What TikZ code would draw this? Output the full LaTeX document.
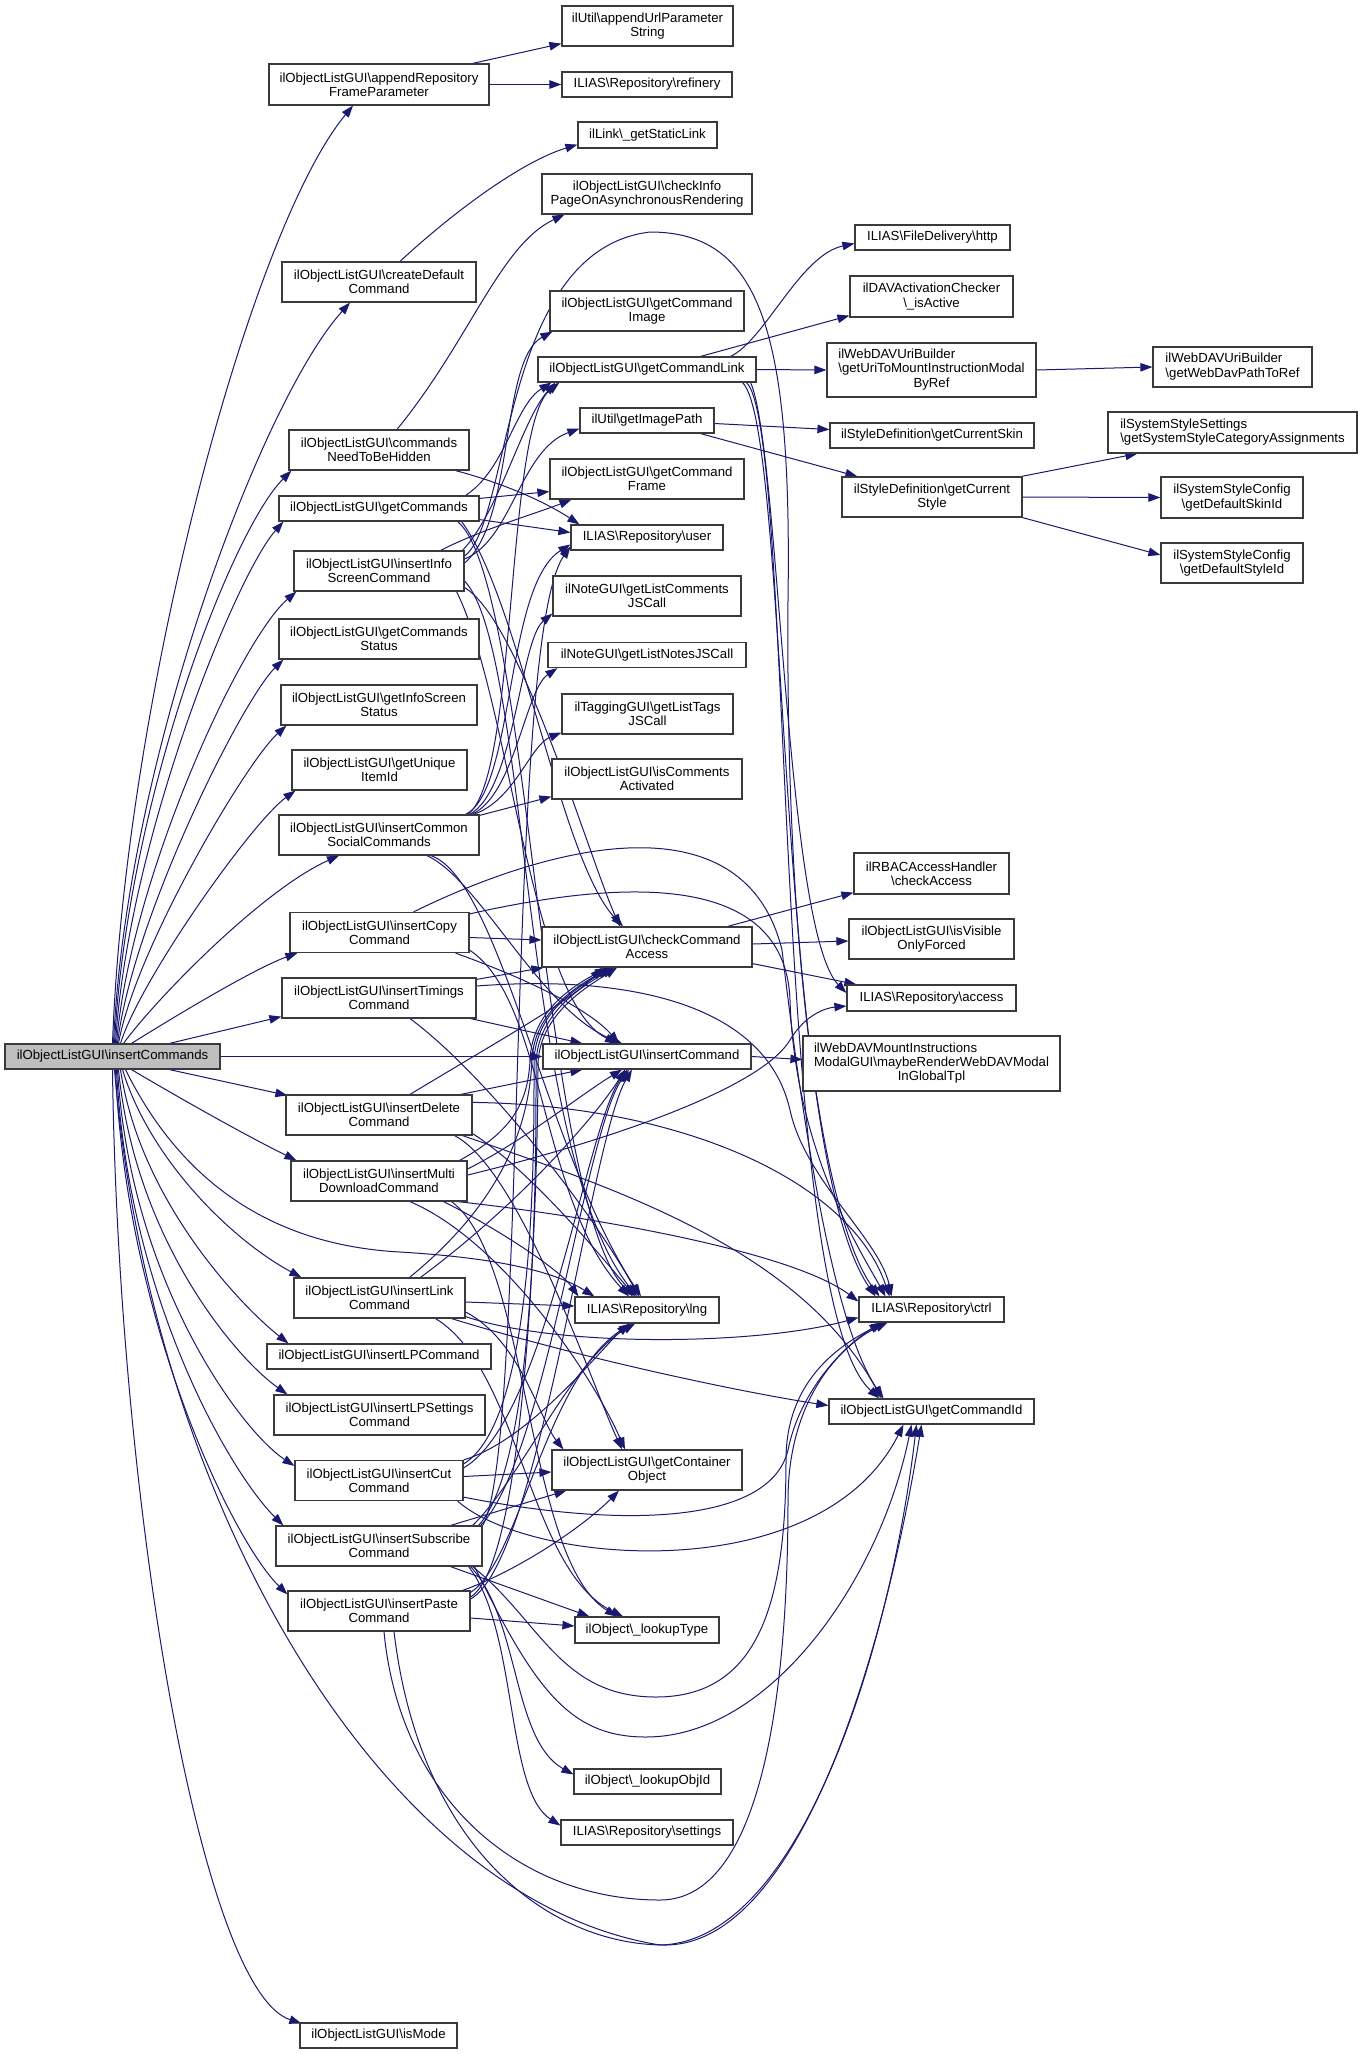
\documentclass[tikz,border=0pt]{standalone}
\usepackage{fontspec}
\setmainfont{Liberation Sans}
\usetikzlibrary{arrows.meta,calc}
\pgfdeclarelayer{bg}
\pgfdeclarelayer{paper}
\pgfsetlayers{paper,bg,main}
\definecolor{edgec}{HTML}{191970}
\definecolor{boxc}{HTML}{3A3A3A}
\definecolor{grayfill}{HTML}{BFBFBF}
\newcommand{\bksl}{\textbackslash}
\newcommand{\nf}{\fontsize{13.2}{14.3}\selectfont}
\tikzset{
  nb/.style={draw=boxc, line width=1.2pt, fill=white, inner sep=0pt, font=\nf},
  box/.style={nb, align=center},
  e/.style={draw=edgec, line width=1pt, -{Triangle[length=12pt,width=8.5pt]}},
}
\newcommand{\mynode}[6]{\node[box,minimum width=#4pt,minimum height=#5pt] (#1) at (#2,#3) {#6};}
\begin{document}
\begin{tikzpicture}[x=1pt,y=-1pt]
\useasboundingbox (0,0) rectangle (1361,2054);
\begin{pgfonlayer}{paper}
\fill[white] (0,0) rectangle (1361,2054);
\end{pgfonlayer}

% ---------- nodes ----------
\node[box,fill=grayfill,minimum width=215pt,minimum height=25pt] (cmds) at (112.5,1056.5) {ilObjectListGUI\bksl insertCommands};
\mynode{arfp}{379}{84.5}{220}{41}{ilObjectListGUI\bksl appendRepository\\FrameParameter}
\mynode{aups}{647.5}{26}{171}{40}{ilUtil\bksl appendUrlParameter\\String}
\mynode{ref}{647}{84.5}{170}{25}{ILIAS\bksl Repository\bksl refinery}
\mynode{gsl}{647.5}{135}{139}{26}{ilLink\bksl\_getStaticLink}
\mynode{cip}{647}{194}{210}{40}{ilObjectListGUI\bksl checkInfo\\PageOnAsynchronousRendering}
\mynode{cdc}{379}{282}{194}{40}{ilObjectListGUI\bksl createDefault\\Command}
\mynode{gci}{647}{311}{194}{40}{ilObjectListGUI\bksl getCommand\\Image}
\mynode{gcl}{647}{369.5}{218}{25}{ilObjectListGUI\bksl getCommandLink}
\mynode{gip}{647}{420.5}{134}{25}{ilUtil\bksl getImagePath}
\mynode{cnh}{379}{450}{180}{40}{ilObjectListGUI\bksl commands\\NeedToBeHidden}
\mynode{gcf}{647}{479}{194}{40}{ilObjectListGUI\bksl getCommand\\Frame}
\mynode{gc}{379}{508.5}{200}{25}{ilObjectListGUI\bksl getCommands}
\mynode{usr}{647}{537.5}{152}{25}{ILIAS\bksl Repository\bksl user}
\mynode{iis}{379}{571}{170}{40}{ilObjectListGUI\bksl insertInfo\\ScreenCommand}
\mynode{glc}{647}{596}{188}{40}{ilNoteGUI\bksl getListComments\\JSCall}
\mynode{gcs}{379}{639}{200}{40}{ilObjectListGUI\bksl getCommands\\Status}
\mynode{gln}{647}{655}{198}{25}{ilNoteGUI\bksl getListNotesJSCall}
\mynode{giss}{379}{705}{196}{40}{ilObjectListGUI\bksl getInfoScreen\\Status}
\mynode{glt}{647.5}{714}{171}{40}{ilTaggingGUI\bksl getListTags\\JSCall}
\mynode{guid}{379.5}{770}{175}{40}{ilObjectListGUI\bksl getUnique\\ItemId}
\mynode{ica}{647}{779}{190}{40}{ilObjectListGUI\bksl isComments\\Activated}
\mynode{icsc}{379}{835}{200}{40}{ilObjectListGUI\bksl insertCommon\\SocialCommands}
\mynode{icc}{379.5}{932.5}{179}{40}{ilObjectListGUI\bksl insertCopy\\Command}
\mynode{cca}{647}{947}{210}{40}{ilObjectListGUI\bksl checkCommand\\Access}
\mynode{itc}{379}{998}{194}{40}{ilObjectListGUI\bksl insertTimings\\Command}
\mynode{ic}{647}{1056.5}{208}{25}{ilObjectListGUI\bksl insertCommand}
\mynode{idc}{379}{1115}{186}{40}{ilObjectListGUI\bksl insertDelete\\Command}
\mynode{imd}{379}{1181}{176}{40}{ilObjectListGUI\bksl insertMulti\\DownloadCommand}
\mynode{ilc}{379.5}{1298}{171}{40}{ilObjectListGUI\bksl insertLink\\Command}
\mynode{lng}{647}{1310}{144}{26}{ILIAS\bksl Repository\bksl lng}
\mynode{ilp}{379}{1356.5}{224}{25}{ilObjectListGUI\bksl insertLPCommand}
\mynode{ilps}{379.5}{1415}{211}{40}{ilObjectListGUI\bksl insertLPSettings\\Command}
\mynode{icut}{379}{1480.5}{168}{40}{ilObjectListGUI\bksl insertCut\\Command}
\mynode{gco}{647}{1470}{190}{40}{ilObjectListGUI\bksl getContainer\\Object}
\mynode{isub}{379}{1546}{206}{40}{ilObjectListGUI\bksl insertSubscribe\\Command}
\mynode{ipc}{379}{1611}{182}{40}{ilObjectListGUI\bksl insertPaste\\Command}
\mynode{lt}{647}{1630}{144}{26}{ilObject\bksl\_lookupType}
\mynode{loi}{647.5}{1781.5}{147}{25}{ilObject\bksl\_lookupObjId}
\mynode{set}{647}{1832.5}{172}{25}{ILIAS\bksl Repository\bksl settings}
\mynode{ism}{378.5}{2035.5}{157}{25}{ilObjectListGUI\bksl isMode}
\mynode{http}{932.5}{237.5}{155}{25}{ILIAS\bksl FileDelivery\bksl http}
\mynode{isa}{931.5}{296.5}{163}{41}{ilDAVActivationChecker\\\bksl\_isActive}
\node[nb,minimum width=209pt,minimum height=54pt] (gum) at (931.5,370) {\begin{tabular}{@{}l@{}}ilWebDAVUriBuilder\\\bksl getUriToMountInstructionModal\\\multicolumn{1}{@{}c@{}}{ByRef}\end{tabular}};
\node[nb,minimum width=159pt,minimum height=40pt] (gwd) at (1232.5,367) {\begin{tabular}{@{}l@{}}ilWebDAVUriBuilder\\\bksl getWebDavPathToRef\end{tabular}};
\mynode{gcsk}{932}{435.5}{204}{25}{ilStyleDefinition\bksl getCurrentSkin}
\mynode{gcst}{932}{497}{180}{40}{ilStyleDefinition\bksl getCurrent\\Style}
\node[nb,minimum width=249pt,minimum height=41pt] (gssca) at (1232.5,432.5) {\begin{tabular}{@{}l@{}}ilSystemStyleSettings\\\bksl getSystemStyleCategoryAssignments\end{tabular}};
\mynode{gdsk}{1232}{497.5}{142}{41}{ilSystemStyleConfig\\\bksl getDefaultSkinId}
\mynode{gdst}{1232}{563}{142}{40}{ilSystemStyleConfig\\\bksl getDefaultStyleId}
\mynode{rca}{931.5}{873.5}{155}{41}{ilRBACAccessHandler\\\bksl checkAccess}
\mynode{ivo}{931.5}{939}{165}{40}{ilObjectListGUI\bksl isVisible\\OnlyForced}
\mynode{acc}{931.5}{998}{169}{26}{ILIAS\bksl Repository\bksl access}
\node[nb,minimum width=257pt,minimum height=55pt] (mr) at (931.5,1063.5) {\begin{tabular}{@{}l@{}}ilWebDAVMountInstructions\\ModalGUI\bksl maybeRenderWebDAVModal\\\multicolumn{1}{@{}c@{}}{InGlobalTpl}\end{tabular}};
\mynode{ctrl}{931.5}{1309.5}{145}{25}{ILIAS\bksl Repository\bksl ctrl}
\mynode{gcid}{931.5}{1411.5}{205}{25}{ilObjectListGUI\bksl getCommandId}

% ---------- edges ----------
\begin{pgfonlayer}{bg}
% insertCommands
\draw[e] (cmds.north) .. controls (125,700) and (250,230) .. ($(arfp.south)+(-26,0)$);
\draw[e] ($(cmds.north)+(1,0)$) .. controls (126,760) and (262,400) .. ($(cdc.south)+(-29,0)$);
\draw[e] ($(cmds.north)+(2,0)$) .. controls (127,800) and (232,530) .. ($(cnh.south west)+(3,0)$);
\draw[e] ($(cmds.north)+(3,0)$) .. controls (128,840) and (236,575) .. ($(gc.south west)+(5,0)$);
\draw[e] ($(cmds.north)+(4,0)$) .. controls (130,880) and (240,640) .. ($(iis.south west)+(3,0)$);
\draw[e] ($(cmds.north)+(5,0)$) .. controls (132,920) and (242,700) .. ($(gcs.south west)+(5,0)$);
\draw[e] ($(cmds.north)+(6,0)$) .. controls (135,950) and (246,762) .. ($(giss.south west)+(6,0)$);
\draw[e] ($(cmds.north)+(8,0)$) .. controls (140,980) and (252,822) .. ($(guid.south west)+(4,0)$);
\draw[e] ($(cmds.north)+(11,0)$) .. controls (155,1000) and (262,890) .. ($(icsc.south)+(-40,0)$);
\draw[e] ($(cmds.north)+(19,0)$) .. controls (185,1010) and (258,967) .. ($(icc.south west)+(8,0)$);
\draw[e] ($(cmds.north)+(57,0)$) -- ($(itc.south west)+(0,-2)$);
\draw[e] (cmds.east) -- (ic.west);
\draw[e] ($(cmds.south)+(57,0)$) -- ($(idc.north west)+(2,1)$);
\draw[e] ($(cmds.south)+(19,0)$) .. controls (200,1110) and (255,1140) .. ($(imd.north west)+(6,0)$);
\draw[e] ($(cmds.south)+(13,0)$) .. controls (180,1180) and (270,1245) .. (400,1252) .. controls (500,1258) and (555,1272) .. ($(lng.north west)+(20,0)$);
\draw[e] ($(cmds.south)+(10,0)$) .. controls (150,1160) and (232,1240) .. ($(ilc.north west)+(8,0)$);
\draw[e] ($(cmds.south)+(8,0)$) .. controls (140,1200) and (240,1305) .. ($(ilp.north west)+(22,0)$);
\draw[e] ($(cmds.south)+(6,0)$) .. controls (135,1240) and (236,1358) .. ($(ilps.north west)+(14,0)$);
\draw[e] ($(cmds.south)+(5,0)$) .. controls (130,1280) and (240,1430) .. ($(icut.north west)+(0,6)$);
\draw[e] ($(cmds.south)+(4,0)$) .. controls (128,1300) and (232,1475) .. ($(isub.north west)+(8,0)$);
\draw[e] ($(cmds.south)+(3,0)$) .. controls (126,1320) and (232,1540) .. ($(ipc.north west)+(0,4)$);
\draw[e] ($(cmds.south)+(2,0)$) .. controls (150,1500) and (380,1900) .. (660,1945) .. controls (800,1942) and (890,1650) .. ($(gcid.south)+(-15,0)$);
\draw[e] (cmds.south) .. controls (118,1500) and (200,1990) .. ($(ism.north west)+(2,1)$);

% appendRepositoryFrameParameter, createDefaultCommand, commandsNeedToBeHidden
\draw[e] ($(arfp.north east)+(-17,0)$) -- ($(aups.south west)+(0,-3)$);
\draw[e] (arfp.east) -- (ref.west);
\draw[e] ($(cdc.north)+(21,0)$) .. controls (450,215) and (520,162) .. ($(gsl.south west)+(0,-4)$);
\draw[e] ($(cnh.north)+(18,0)$) .. controls (470,340) and (500,245) .. ($(cip.south west)+(23,0)$);
\draw[e] ($(cnh.south east)+(-14,0)$) .. controls (510,485) and (550,505) .. ($(usr.north west)+(9,0)$);

% getCommands
\draw[e] ($(gc.north east)+(-14,0)$) .. controls (505,470) and (515,405) .. ($(gcl.south west)+(14,0)$);
\draw[e] ($(gc.north east)+(0,3)$) -- ($(gcf.south west)+(0,-8)$);
\draw[e] ($(gc.south east)+(0,-2)$) -- ($(usr.west)+(0,-5)$);
\draw[e] ($(gc.south east)+(-18,0)$) .. controls (520,600) and (560,860) .. ($(cca.north)+(-24,0)$);
\draw[e] ($(gc.south east)+(-22,0)$) .. controls (530,580) and (540,1200) .. ($(lng.north)+(-14,0)$);

% insertInfoScreenCommand
\draw[e] ($(iis.north east)+(-2,0)$) .. controls (500,510) and (522,420) .. ($(gcl.south west)+(18,0)$);
\draw[e] ($(iis.north east)+(-24,0)$) .. controls (480,530) and (540,512) .. ($(gcf.south west)+(22,0)$);
\draw[e] ($(iis.east)+(0,-12)$) .. controls (512,540) and (520,450) .. ($(gip.south west)+(0,-5)$);
\draw[e] ($(iis.east)+(0,-8)$) .. controls (515,520) and (500,360) .. ($(gci.south west)+(3,0)$);
\draw[e] ($(iis.south east)+(0,-4)$) .. controls (520,620) and (590,860) .. ($(cca.north)+(-27,0)$);
\draw[e] ($(iis.east)+(0,10)$) .. controls (530,650) and (520,1150) .. ($(lng.north)+(-10,0)$);
\draw[e] ($(iis.south east)+(-8,0)$) .. controls (510,700) and (530,1000) .. ($(ic.north)+(-30,0)$);
\draw[e] ($(iis.east)+(0,-15)$) .. controls (512,520) and (500,250) .. (650,232) .. controls (760,232) and (792,330) .. (788,600) .. controls (785,1000) and (830,1230) .. ($(ctrl.north)+(-52,0)$);

% insertCommonSocialCommands
\draw[e] ($(icsc.north east)+(-14,0)$) .. controls (515,790) and (505,585) .. ($(usr.west)+(0,7)$);
\draw[e] ($(icsc.north east)+(-12,0)$) .. controls (518,780) and (505,425) .. ($(gcl.south west)+(22,0)$);
\draw[e] ($(icsc.north east)+(-10,0)$) .. controls (515,790) and (520,640) .. ($(glc.south west)+(0,-3)$);
\draw[e] ($(icsc.north east)+(-8,0)$) .. controls (515,795) and (525,690) .. ($(gln.south west)+(10,0)$);
\draw[e] ($(icsc.north east)+(-6,0)$) .. controls (515,800) and (530,745) .. ($(glt.south west)+(0,-2)$);
\draw[e] ($(icsc.north east)+(0,1)$) -- ($(ica.south west)+(0,-3)$);
\draw[e] ($(icsc.south)+(48,0)$) .. controls (480,880) and (540,1010) .. ($(ic.north)+(-25,0)$);
\draw[e] ($(icsc.south)+(52,0)$) .. controls (500,880) and (545,1150) .. ($(lng.north)+(-6,0)$);

% insertCopyCommand
\draw[e] ($(icc.east)+(0,5)$) -- ($(cca.west)+(0,-7)$);
\draw[e] ($(icc.south east)+(-14,0)$) .. controls (530,980) and (590,1010) .. ($(ic.north)+(-28,0)$);
\draw[e] ($(icc.south east)+(0,-3)$) .. controls (545,1000) and (540,1200) .. ($(lng.north)+(-18,0)$);
\draw[e] ($(icc.north east)+(0,2)$) .. controls (620,880) and (785,870) .. (790,1000) .. controls (795,1150) and (860,1250) .. ($(ctrl.north)+(-46,0)$);
\draw[e] ($(icc.north)+(34,0)$) .. controls (560,840) and (745,800) .. (782,950) .. controls (800,1100) and (830,1320) .. ($(gcid.north)+(-48,0)$);

% insertTimingsCommand
\draw[e] ($(itc.north east)+(0,2)$) -- ($(cca.south west)+(2,0)$);
\draw[e] ($(itc.east)+(0,-12)$) .. controls (620,975) and (765,1000) .. (790,1110) .. controls (805,1180) and (880,1240) .. ($(ctrl.north)+(-40,0)$);
\draw[e] ($(itc.south east)+(-6,0)$) -- ($(ic.north west)+(40,0)$);
\draw[e] ($(itc.south)+(31,0)$) .. controls (480,1070) and (585,1200) .. ($(lng.north)+(-8,0)$);

% insertDeleteCommand
\draw[e] ($(idc.north)+(31,0)$) .. controls (500,1040) and (572,1000) .. ($(cca.south)+(-45,0)$);
\draw[e] ($(idc.north east)+(-12,0)$) -- ($(ic.south west)+(40,0)$);
\draw[e] ($(idc.north east)+(0,8)$) .. controls (680,1105) and (850,1180) .. ($(ctrl.north)+(-42,0)$);
\draw[e] ($(idc.south east)+(-18,0)$) .. controls (520,1170) and (590,1380) .. ($(gco.north)+(-25,0)$);
\draw[e] ($(idc.south east)+(0,-2)$) .. controls (530,1170) and (600,1255) .. ($(lng.north)+(-12,0)$);
\draw[e] ($(idc.south east)+(-10,0)$) .. controls (620,1190) and (800,1250) .. ($(gcid.north)+(-50,0)$);

% insertMultiDownloadCommand
\draw[e] ($(imd.north east)+(-8,0)$) .. controls (515,1130) and (528,1100) .. (530,1060) .. controls (532,1010) and (575,985) .. ($(cca.south)+(-40,0)$);
\draw[e] ($(imd.east)+(0,-12)$) .. controls (525,1140) and (580,1095) .. ($(ic.south)+(-25,0)$);
\draw[e] ($(imd.east)+(0,-6)$) .. controls (600,1143) and (760,1090) .. (790,1040) .. controls (805,1015) and (825,1008) .. ($(acc.west)+(0,8)$);
\draw[e] ($(imd.south east)+(-10,0)$) .. controls (580,1215) and (790,1250) .. ($(ctrl.west)+(0,-8)$);
\draw[e] ($(imd.south east)+(-24,0)$) .. controls (500,1230) and (560,1270) .. ($(lng.north west)+(4,0)$);
\draw[e] ($(imd.south)+(31,0)$) .. controls (500,1240) and (590,1370) .. ($(gco.north)+(-22,0)$);
\draw[e] ($(imd.south east)+(-16,0)$) .. controls (530,1260) and (525,1560) .. ($(lt.north)+(-30,0)$);

% insertLinkCommand
\draw[e] ($(ilc.north)+(30,0)$) .. controls (480,1220) and (528,1150) .. (532,1060) .. controls (534,1010) and (580,985) .. ($(cca.south)+(-38,0)$);
\draw[e] ($(ilc.north)+(41,0)$) .. controls (525,1200) and (600,1110) .. ($(ic.south)+(-22,0)$);
\draw[e] ($(ilc.east)+(0,4)$) -- ($(lng.west)+(0,-4)$);
\draw[e] ($(ilc.south east)+(0,-2)$) .. controls (560,1348) and (760,1345) .. ($(ctrl.west)+(0,8)$);
\draw[e] ($(ilc.south east)+(-14,0)$) .. controls (580,1358) and (740,1392) .. ($(gcid.west)+(0,-6)$);
\draw[e] ($(ilc.east)+(0,14)$) .. controls (520,1340) and (540,1420) .. ($(gco.north west)+(12,0)$);
\draw[e] ($(ilc.south east)+(-30,0)$) .. controls (520,1370) and (528,1570) .. ($(lt.north)+(-24,0)$);

% insertCutCommand
\draw[e] ($(icut.north east)+(0,4)$) .. controls (536,1420) and (534,1150) .. (534,1062) .. controls (535,1010) and (582,985) .. ($(cca.south)+(-36,0)$);
\draw[e] ($(icut.north east)+(0,8)$) .. controls (546,1420) and (585,1130) .. ($(ic.south)+(-20,0)$);
\draw[e] (icut.north east) .. controls (530,1440) and (600,1350) .. ($(lng.south)+(-18,0)$);
\draw[e] ($(icut.east)+(0,-4)$) -- ($(gco.west)+(0,2)$);
\draw[e] ($(icut.south east)+(0,-4)$) .. controls (620,1528) and (770,1525) .. (788,1450) .. controls (800,1390) and (845,1345) .. ($(ctrl.south)+(-50,0)$);
\draw[e] ($(icut.south east)+(-6,0)$) .. controls (530,1565) and (820,1590) .. ($(gcid.south)+(-28,0)$);

% insertSubscribeCommand
\draw[e] ($(isub.north east)+(-32,0)$) -- ($(gco.south west)+(15,0)$);
\draw[e] ($(isub.north east)+(-10,0)$) .. controls (520,1480) and (572,1360) .. ($(lng.south)+(-12,0)$);
\draw[e] ($(isub.north east)+(-4,0)$) .. controls (538,1460) and (536,1150) .. (536,1064) .. controls (537,1012) and (585,985) .. ($(cca.south)+(-33,0)$);
\draw[e] ($(isub.north east)+(-2,0)$) .. controls (545,1460) and (585,1130) .. ($(ic.south)+(-18,0)$);
\draw[e] (isub.north east) .. controls (528,1450) and (505,640) .. ($(usr.west)+(0,9)$);
\draw[e] ($(isub.south east)+(-32,0)$) -- ($(lt.north west)+(15,0)$);
\draw[e] ($(isub.south east)+(-12,0)$) .. controls (520,1620) and (512,1740) .. ($(loi.west)+(0,-7)$);
\draw[e] ($(isub.south east)+(-14,0)$) .. controls (518,1630) and (505,1790) .. ($(set.west)+(0,-7)$);
\draw[e] ($(isub.south east)+(-10,0)$) .. controls (540,1620) and (560,1697) .. (656,1697) .. controls (760,1697) and (786,1600) .. (786,1460) .. controls (786,1380) and (840,1345) .. ($(ctrl.south)+(-48,0)$);
\draw[e] ($(isub.south east)+(-8,0)$) .. controls (535,1690) and (570,1737) .. (646,1737) .. controls (770,1737) and (880,1580) .. ($(gcid.south)+(-20,0)$);

% insertPasteCommand
\draw[e] ($(ipc.north east)+(-8,0)$) .. controls (520,1570) and (585,1525) .. ($(gco.south)+(-28,0)$);
\draw[e] ($(ipc.east)+(0,7)$) -- ($(lt.west)+(0,-4)$);
\draw[e] ($(ipc.north east)+(0,2)$) .. controls (520,1560) and (545,1380) .. ($(lng.south)+(-16,0)$);
\draw[e] ($(ipc.east)+(0,-14)$) .. controls (530,1560) and (538,1150) .. (538,1066) .. controls (538,1014) and (590,985) .. ($(cca.south)+(-30,0)$);
\draw[e] ($(ipc.east)+(0,-12)$) .. controls (540,1560) and (590,1140) .. ($(ic.south)+(-15,0)$);
\draw[e] ($(ipc.south)+(5,0)$) .. controls (400,1800) and (520,1900) .. (660,1900) .. controls (760,1900) and (788,1700) .. (788,1500) .. controls (788,1400) and (840,1345) .. ($(ctrl.south)+(-44,0)$);
\draw[e] ($(ipc.south)+(15,0)$) .. controls (420,1850) and (550,1945) .. (665,1945) .. controls (800,1945) and (885,1650) .. ($(gcid.south)+(-10,0)$);

% getCommandLink
\draw[e] ($(gcl.north east)+(-26,0)$) .. controls (765,340) and (800,255) .. ($(http.west)+(0,6)$);
\draw[e] ($(gcl.north east)+(-56,0)$) -- ($(isa.south west)+(0,-2)$);
\draw[e] (gcl.east) -- (gum.west);
\draw[e] ($(gcl.south east)+(-14,0)$) .. controls (790,430) and (775,1150) .. ($(ctrl.north)+(-56,0)$);
\draw[e] ($(gcl.south east)+(-10,0)$) .. controls (795,430) and (770,1300) .. ($(gcid.north)+(-52,0)$);
\draw[e] ($(gcl.south east)+(-6,0)$) .. controls (780,450) and (785,930) .. ($(acc.west)+(0,-5)$);

% right part
\draw[e] ($(gip.east)+(0,3)$) -- ($(gcsk.west)+(0,-6)$);
\draw[e] ($(gip.south east)+(-14,0)$) -- ($(gcst.north west)+(16,0)$);
\draw[e] (gum.east) -- (gwd.west);
\draw[e] ($(gcst.north east)+(-1,0)$) -- ($(gssca.south west)+(30,0)$);
\draw[e] (gcst.east) -- (gdsk.west);
\draw[e] (gcst.south east) -- ($(gdst.west)+(0,-8)$);
\draw[e] ($(cca.north east)+(-25,0)$) -- ($(rca.south west)+(0,-2)$);
\draw[e] ($(cca.east)+(0,-3)$) -- ($(ivo.west)+(0,2)$);
\draw[e] ($(cca.south east)+(0,-4)$) -- ($(acc.north west)+(10,0)$);
\draw[e] (ic.east) -- ($(mr.west)+(0,-4)$);
\end{pgfonlayer}
\end{tikzpicture}
\end{document}
